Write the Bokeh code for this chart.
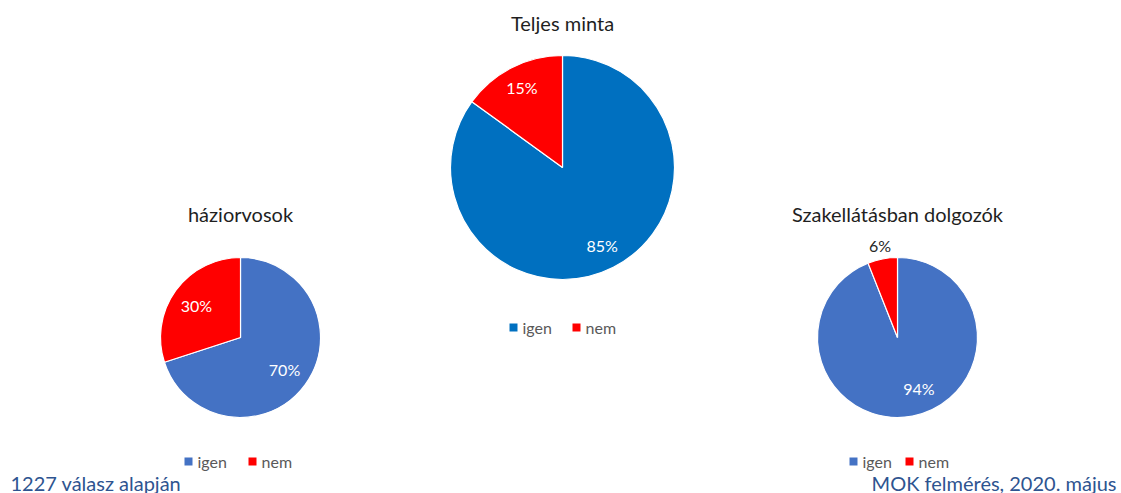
import math
from bokeh.plotting import figure
from bokeh.models import Range1d
from bokeh.core.properties import value
from bokeh.embed import file_html
from bokeh.resources import INLINE

# ---- data ----
categories = ["igen", "nem"]
titles = ["Teljes minta", "háziorvosok", "Szakellátásban dolgozók"]
teljes_minta = [85, 15]
haziorvosok = [70, 30]
szakellatas = [94, 6]
footer_left = "1227  válasz alapján"
footer_right = "MOK felmérés, 2020. május"

W, H = 1121, 493
FONT = value("Lato")

p = figure(width=W, height=H, x_range=Range1d(0, W), y_range=Range1d(0, H),
           output_backend="svg", toolbar_location=None, min_border=0)
p.axis.visible = False
p.grid.visible = False
p.outline_line_color = None
p.background_fill_color = "white"


def Y(ys):
    return H - ys


pies = [
    dict(vals=teljes_minta, title=titles[0], cx=562, cy=167, r=112,
         colors=["#0070C0", "#FF0000"], frac=[0.78, 0.80], lab_col=["white", "white"],
         ang_off=[0, 0], ty=22, ly=327, lx=513, nem_dx=63),
    dict(vals=haziorvosok, title=titles[1], cx=240, cy=337, r=80,
         colors=["#4472C4", "#FF0000"], frac=[0.68, 0.68], lab_col=["white", "white"],
         ang_off=[0, 0], ty=213, ly=461, lx=188, nem_dx=64),
    dict(vals=szakellatas, title=titles[2], cx=897, cy=337, r=80,
         colors=["#4472C4", "#FF0000"], frac=[0.69, 1.17], lab_col=["white", "#262626"],
         ang_off=[12, 0], ty=213, ly=461, lx=853, nem_dx=56),
]

for pie in pies:
    vals = pie["vals"]
    total = float(sum(vals))
    start = math.pi / 2
    for i, v in enumerate(vals):
        sweep = v / total * 2 * math.pi
        end = start - sweep
        p.wedge(x=pie["cx"], y=Y(pie["cy"]), radius=pie["r"], start_angle=start, end_angle=end,
                direction="clock", fill_color=pie["colors"][i], line_color="white", line_width=1.2)
        mid = (start + end) / 2 + math.radians(pie["ang_off"][i])
        lr = pie["r"] * pie["frac"][i]
        p.text(x=[pie["cx"] + lr * math.cos(mid)], y=[Y(pie["cy"]) + lr * math.sin(mid)],
               text=[f"{v}%"], text_font=FONT, text_font_size="16px",
               text_color=pie["lab_col"][i], text_align="center", text_baseline="middle")
        start = end
    p.text(x=[pie["cx"]], y=[Y(pie["ty"])], text=[pie["title"]], text_font=FONT,
           text_font_size="20px", text_color="#1F1F1F", text_align="center", text_baseline="middle")
    lx = pie["lx"]
    ly = Y(pie["ly"])
    offsets = [0, pie["nem_dx"]]
    for i, c in enumerate(categories):
        x0 = lx + offsets[i]
        p.rect(x=[x0], y=[ly], width=8, height=8, fill_color=pie["colors"][i], line_color=None)
        p.text(x=[x0 + 9], y=[ly], text=[c], text_font=FONT, text_font_size="16px",
               text_color="#595959", text_align="left", text_baseline="middle")

p.text(x=[10], y=[Y(482)], text=[footer_left], text_font=FONT, text_font_size="20px",
       text_color="#2E5490", text_align="left", text_baseline="middle")
p.text(x=[1116], y=[Y(482)], text=[footer_right], text_font=FONT, text_font_size="20px",
       text_color="#2E5490", text_align="right", text_baseline="middle")

open("out.html", "w").write(file_html(p, INLINE))
